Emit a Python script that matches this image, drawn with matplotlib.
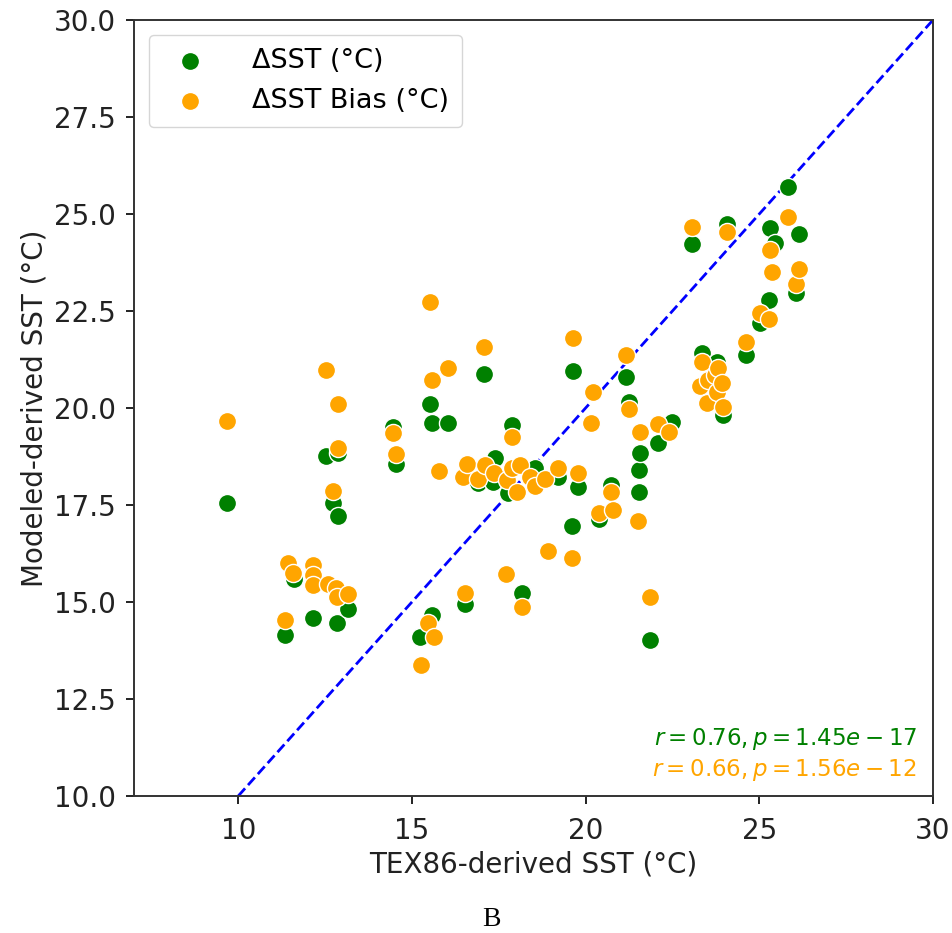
import matplotlib
matplotlib.use("Agg")
import matplotlib.pyplot as plt

# TEX86-derived SST vs modeled SST
dsst_x = [9.68, 11.35, 11.6, 12.15, 12.53, 12.73, 12.87, 12.87, 12.84, 13.16,
          14.45, 14.54, 15.23, 15.58, 15.52, 15.58, 16.04, 16.53, 16.9, 17.07,
          17.33, 17.39, 17.76, 17.88, 18.17, 18.54, 19.2, 19.6, 19.63, 19.78,
          20.38, 20.73, 21.16, 21.24, 21.53, 21.53, 21.56, 21.85, 22.08, 22.48,
          23.06, 23.35, 23.78, 23.95, 24.06, 24.61, 25.01, 25.27, 25.3, 25.45,
          25.82, 26.05, 26.14]
dsst_y = [17.55, 14.15, 15.6, 14.59, 18.76, 17.55, 18.85, 17.22, 14.46, 14.82,
          19.5, 18.56, 14.1, 14.66, 20.1, 19.61, 19.61, 14.95, 18.07, 20.88,
          18.09, 18.71, 17.81, 19.56, 15.23, 18.45, 18.22, 16.96, 20.95, 17.96,
          17.14, 18.02, 20.8, 20.15, 18.4, 17.84, 18.84, 14.02, 19.1, 19.64,
          24.23, 21.42, 21.19, 19.82, 24.74, 21.37, 22.19, 22.78, 24.64, 24.25,
          25.7, 22.96, 24.48]

bias_x = [9.68, 11.35, 11.43, 11.58, 12.15, 12.15, 12.15, 12.53, 12.58, 12.73,
          12.81, 12.84, 12.87, 12.87, 13.16, 14.45, 14.54, 15.26, 15.46, 15.52,
          15.58, 15.63, 15.78, 16.04, 16.47, 16.53, 16.58, 16.9, 17.07, 17.1,
          17.36, 17.7, 17.73, 17.88, 17.88, 18.02, 18.1, 18.17, 18.4, 18.54,
          18.83, 18.91, 19.2, 19.6, 19.63, 19.78, 20.15, 20.21, 20.38, 20.73,
          20.78, 21.16, 21.24, 21.5, 21.56, 21.85, 22.08, 22.4, 23.06, 23.29,
          23.35, 23.49, 23.52, 23.72, 23.78, 23.81, 23.92, 23.95, 24.06, 24.61,
          25.01, 25.27, 25.3, 25.36, 25.82, 26.05, 26.14]
bias_y = [19.66, 14.54, 16.0, 15.75, 15.95, 15.7, 15.44, 20.98, 15.46, 17.86,
          15.36, 15.13, 20.1, 18.97, 15.2, 19.36, 18.81, 13.38, 14.46, 22.73,
          20.72, 14.1, 18.38, 21.03, 18.22, 15.23, 18.56, 18.17, 21.57, 18.53,
          18.32, 15.72, 18.14, 19.25, 18.45, 17.84, 18.53, 14.87, 18.22, 17.99,
          18.17, 16.31, 18.45, 16.13, 21.8, 18.32, 19.61, 20.41, 17.29, 17.84,
          17.37, 21.37, 19.97, 17.09, 19.38, 15.13, 19.59, 19.38, 24.66, 20.57,
          21.19, 20.13, 20.72, 20.85, 20.41, 21.03, 20.64, 20.03, 24.54, 21.7,
          22.45, 22.29, 24.07, 23.5, 24.92, 23.2, 23.58]

yticks = [10.0, 12.5, 15.0, 17.5, 20.0, 22.5, 25.0, 27.5, 30.0]

fig = plt.figure(figsize=(9.53, 9.33), dpi=100)
ax = fig.add_axes([0.1406, 0.1468, 0.8384, 0.8318])

ax.scatter(dsst_x, dsst_y, s=170, color="green", edgecolor="white",
           linewidth=1, label="ΔSST (°C)", zorder=3)
ax.scatter(bias_x, bias_y, s=170, color="orange", edgecolor="white",
           linewidth=1, label="ΔSST Bias (°C)", zorder=3)

# 1:1 line
ax.plot([10, 30], [10, 30], color="blue", linestyle="--", linewidth=2, zorder=2)

ax.set_xlim(7, 30)
ax.set_ylim(10, 30)
ax.set_xticks([10, 15, 20, 25, 30])
ax.set_yticks(yticks)
ax.set_yticklabels([f"{t:.1f}" for t in yticks])
ax.tick_params(labelsize=20, length=6, width=1.4, colors="#222222")
ax.tick_params(axis="x", pad=9)
ax.tick_params(axis="y", pad=7)
for sp in ax.spines.values():
    sp.set_linewidth(1.4)
    sp.set_color("#333333")

ax.set_xlabel("TEX86-derived SST (°C)", fontsize=20, color="#222222")
ax.set_ylabel("Modeled-derived SST (°C)", fontsize=20, color="#222222")

ax.legend(loc="upper left", fontsize=19.5, markerscale=1.0, borderpad=0.5,
          handletextpad=1.3, labelspacing=0.5, borderaxespad=0.55)

ax.text(0.98, 0.074, r"$r = 0.76, p = 1.45e-17$", color="green",
        fontsize=16.5, ha="right", va="center", transform=ax.transAxes)
ax.text(0.98, 0.033, r"$r = 0.66, p = 1.56e-12$", color="orange",
        fontsize=16.5, ha="right", va="center", transform=ax.transAxes)

fig.text(0.516, 0.014, "B", fontsize=20, family="Liberation Serif",
         ha="center", va="center")

fig.savefig("out.png", dpi=100)
